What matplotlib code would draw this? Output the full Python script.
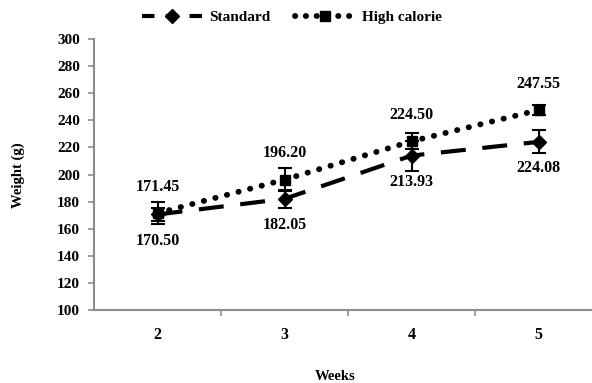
import matplotlib
matplotlib.use('Agg')
import matplotlib.pyplot as plt
from matplotlib.lines import Line2D

# data
weeks = ['2', '3', '4', '5']
standard = [170.50, 182.05, 213.93, 224.08]
standard_err = [5.0, 6.5, 11.0, 8.5]
high_cal = [171.45, 196.20, 224.50, 247.55]
high_cal_err = [8.0, 8.5, 6.0, 3.5]
y_ticks = [100, 120, 140, 160, 180, 200, 220, 240, 260, 280, 300]

plt.rcParams['font.family'] = ['Liberation Serif', 'DejaVu Serif']
plt.rcParams['font.weight'] = 'bold'

fig = plt.figure(figsize=(5.92, 3.83), dpi=100)
ax = fig.add_axes([94 / 592, 1 - 310 / 383, 508 / 592, 271 / 383])

x = list(range(1, len(weeks) + 1))

# standard diet
ax.plot(x, standard, color='black', lw=3, linestyle=(0, (6, 4)), zorder=2)
ax.errorbar(x, standard, yerr=standard_err, fmt='D', color='black', ms=7.5,
            ecolor='black', elinewidth=1.5, capsize=5, capthick=1.5, zorder=3)

# high calorie diet
ax.plot(x, high_cal, color='black', lw=4.2, linestyle=(0, (0.05, 2.0)),
        dash_capstyle='round', zorder=2)
ax.errorbar(x, high_cal, yerr=high_cal_err, fmt='s', color='black', ms=7,
            ecolor='black', elinewidth=1.5, capsize=5, capthick=1.5, zorder=3)

for xi, v in zip(x, high_cal):
    ax.annotate('%.2f' % v, (xi, v), xytext=(0, 19), textcoords='offset points',
                ha='center', va='center', fontsize=11.5, fontweight='bold')
for xi, v in zip(x, standard):
    ax.annotate('%.2f' % v, (xi, v), xytext=(0, -19), textcoords='offset points',
                ha='center', va='center', fontsize=11.5, fontweight='bold')

ax.set_xlim(0.5, 4.5)
ax.set_ylim(100, 300)
ax.set_yticks(y_ticks)
ax.set_xticks(x)
ax.set_xticklabels(weeks)
ax.set_xticks([1.5, 2.5, 3.5], minor=True)
ax.tick_params(axis='x', which='major', length=0, pad=12, labelsize=11.5)
ax.tick_params(axis='x', which='minor', length=4, color='#8c8c8c', width=1.2)
ax.tick_params(axis='y', length=4, color='#8c8c8c', width=1.2, labelsize=11, pad=6)

for s in ['top', 'right']:
    ax.spines[s].set_visible(False)
for s in ['left', 'bottom']:
    ax.spines[s].set_color('#8c8c8c')
    ax.spines[s].set_linewidth(1.5)

fig.text(335 / 592, 1 - 376 / 383, 'Weeks', ha='center', va='center',
         fontsize=10.5, fontweight='bold')
fig.text(18 / 592, 1 - 175 / 383, 'Weight (g)', ha='center', va='center',
         rotation=90, fontsize=10.5, fontweight='bold')

handles = [
    Line2D([], [], color='black', lw=3, linestyle=(0, (3, 2.7)), marker='D', ms=7),
    Line2D([], [], color='black', lw=4.2, linestyle=(0, (0.05, 1.8)),
           dash_capstyle='round', marker='s', ms=7),
]
fig.legend(handles, ['Standard', 'High calorie'], loc='center',
           bbox_to_anchor=(292 / 592, 1 - 17 / 383), ncol=2, frameon=False,
           handlelength=3.9, columnspacing=1.6, handletextpad=0.5,
           prop={'weight': 'bold', 'size': 11})

fig.savefig('out.png', dpi=100)
